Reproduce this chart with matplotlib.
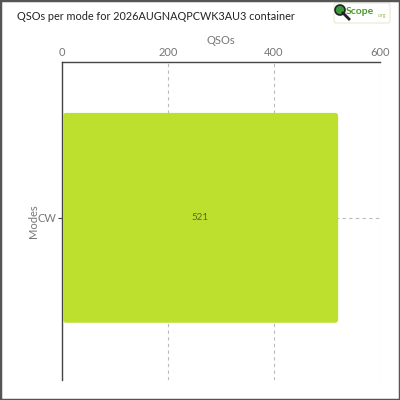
import matplotlib
matplotlib.use("Agg")
import matplotlib.pyplot as plt
from matplotlib.patches import FancyBboxPatch, Rectangle, Circle
from matplotlib.lines import Line2D

modes = ["CW"]
qsos = [521]
x_ticks = [0, 200, 400, 600]

title = "QSOs per mode for 2026AUGNAQPCWK3AU3 container"
bar_color = "#bde02e"

plt.rcParams['font.family'] = ['Lato', 'DejaVu Sans']

fig = plt.figure(figsize=(4, 4), dpi=100)
ax = fig.add_axes([0.155, 0.05, 0.795, 0.795])

# draw bars then swap them for rounded boxes
bars = ax.barh(modes, qsos, height=0.66, color=bar_color, zorder=3)
ax.set_xlim(0, 600)
ax.set_ylim(0.51, -0.49)
px_x = 600 / 318.0
px_y = 1.0 / 318.0
for b in bars:
    x0, y0 = b.get_x(), b.get_y()
    w, h = b.get_width(), b.get_height()
    b.set_visible(False)
    r = 3 * px_x
    box = FancyBboxPatch((x0 + px_x, y0), w - px_x, h,
                         boxstyle="round,pad=0,rounding_size=%f" % r,
                         mutation_aspect=px_y / px_x,
                         fc=bar_color, ec="none", zorder=3)
    ax.add_patch(box)
    ax.text(x0 + w / 2, y0 + h / 2, str(w), ha="center", va="center",
            fontsize=7, color="#5a6a20", zorder=4)

ax.xaxis.tick_top()
ax.xaxis.set_label_position("top")
ax.set_xticks(x_ticks)
ax.set_xlabel("QSOs", fontsize=8, color="#777777", labelpad=2)
ax.set_ylabel("Modes", fontsize=8, color="#777777", labelpad=-1)
ax.tick_params(axis="x", labelsize=8, colors="#777777", length=0, pad=3)
ax.tick_params(axis="y", labelsize=8, colors="#777777", length=3, pad=1)
ax.tick_params(axis="y", color="#444444")

for s in ["right", "bottom"]:
    ax.spines[s].set_visible(False)
for s in ["left", "top"]:
    ax.spines[s].set_color("#444444")
    ax.spines[s].set_linewidth(1.0)

ax.grid(True, axis="both", linestyle=(0, (3, 3)), color="#bbbbbb", linewidth=0.8, zorder=0)

# title
fig.text(17 / 400, 1 - 17 / 400, title, fontsize=7.8, color="#222222", va="center", ha="left")

# logo
fig.patches.append(FancyBboxPatch((334 / 400, 1 - 23 / 400), 56 / 400, 20 / 400,
                                  boxstyle="round,pad=0,rounding_size=0.006",
                                  transform=fig.transFigure, fc="white",
                                  ec="#e6ecd0", lw=0.8))
fig.lines.append(Line2D([343 / 400, 349 / 400], [1 - 13 / 400, 1 - 19 / 400],
                        transform=fig.transFigure, color="#222222", lw=2))
fig.patches.append(Circle((340 / 400, 1 - 10 / 400), 5 / 400, transform=fig.transFigure,
                          fc="#3a9a3a", ec="#222222", lw=1.2))
fig.text(346 / 400, 1 - 11 / 400, "Scope", fontsize=7.5, color="#4a9a2a",
         fontweight="bold", va="center", ha="left")
fig.text(378 / 400, 1 - 15 / 400, ".org", fontsize=3.5, color="#8aba4a",
         va="center", ha="left")

# figure frame
fig.patches.append(Rectangle((0, 0), 1, 1, transform=fig.transFigure, fill=False,
                             ec="#555555", lw=2.5))

fig.savefig("out.png", dpi=100)
